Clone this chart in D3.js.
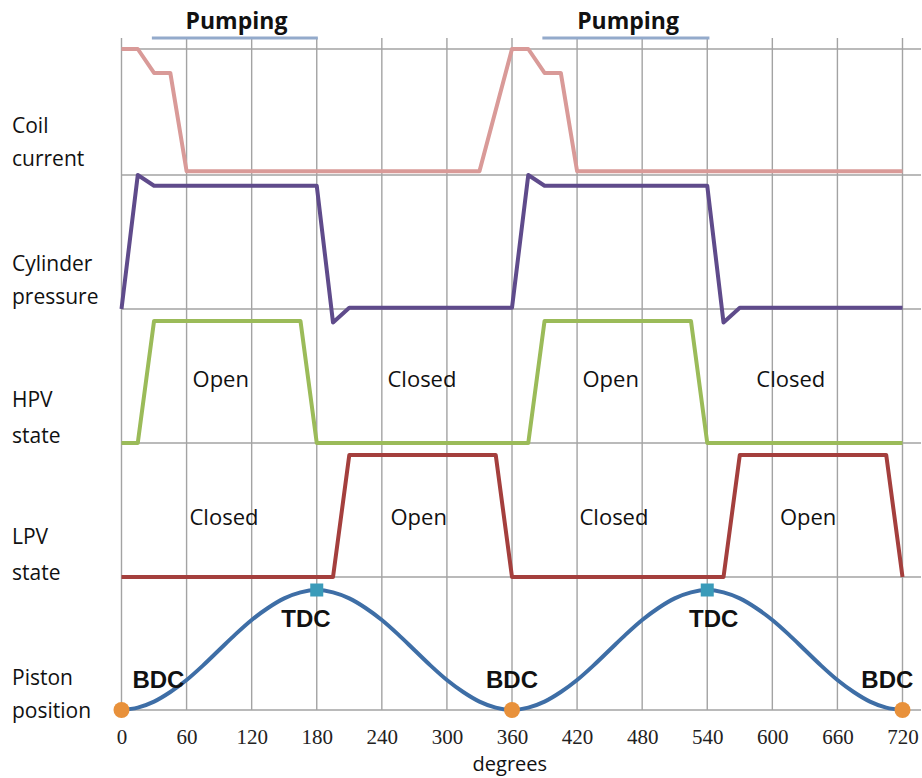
<!DOCTYPE html>
<html>
<head>
<meta charset="utf-8">
<script src="https://cdn.jsdelivr.net/npm/d3@7"></script>
<style>
  html, body { margin: 0; padding: 0; background: #fff; }
  svg { display: block; }
</style>
</head>
<body>
<svg id="chart" width="922" height="778"></svg>
<script>
// ---------- data ----------
const tickDegrees = [0, 60, 120, 180, 240, 300, 360, 420, 480, 540, 600, 660, 720];
const rowLabels = [["Coil", "current"], ["Cylinder", "pressure"], ["HPV", "state"], ["LPV", "state"], ["Piston", "position"]];

const coilDeg = [0, 15, 30, 45, 60, 330, 360, 375, 390, 405, 420, 720];
const coilVal = [1, 1, 0.81, 0.81, 0.03, 0.03, 1, 1, 0.81, 0.81, 0.03, 0.03];

const pressureDeg = [0, 15, 30, 180, 195, 210, 360, 375, 390, 540, 555, 570, 720];
const pressureVal = [0, 1, 0.92, 0.92, -0.1, 0.01, 0.01, 1, 0.92, 0.92, -0.1, 0.01, 0.01];

const hpvDeg = [0, 15, 30, 165, 180, 375, 390, 525, 540, 720];
const hpvVal = [0, 0, 0.91, 0.91, 0, 0, 0.91, 0.91, 0, 0];

const lpvDeg = [0, 195, 210, 345, 360, 555, 570, 705, 720];
const lpvVal = [0, 0, 0.91, 0.91, 0, 0, 0.91, 0.91, 0];

const pistonDeg = [0, 15, 30, 45, 60, 75, 90, 105, 120, 135, 150, 165, 180,
  195, 210, 225, 240, 255, 270, 285, 300, 315, 330, 345, 360,
  375, 390, 405, 420, 435, 450, 465, 480, 495, 510, 525, 540,
  555, 570, 585, 600, 615, 630, 645, 660, 675, 690, 705, 720];
const pistonVal = [0, 0.02, 0.07, 0.15, 0.25, 0.37, 0.5, 0.63, 0.75, 0.85, 0.93, 0.98, 1,
  0.98, 0.93, 0.85, 0.75, 0.63, 0.5, 0.37, 0.25, 0.15, 0.07, 0.02, 0,
  0.02, 0.07, 0.15, 0.25, 0.37, 0.5, 0.63, 0.75, 0.85, 0.93, 0.98, 1,
  0.98, 0.93, 0.85, 0.75, 0.63, 0.5, 0.37, 0.25, 0.15, 0.07, 0.02, 0];

const bdcDeg = [0, 360, 720];
const bdcLabelDeg = [34, 360, 706];
const tdcDeg = [180, 540];
const tdcLabelDeg = [170, 546];

const pumpingStart = [28, 388];
const pumpingEnd = [181, 542];
const pumpingLabelDeg = [106, 467];

const hpvLabels = ["Open", "Closed", "Open", "Closed"];
const hpvLabelDeg = [91.5, 277, 451, 617];
const lpvLabels = ["Closed", "Open", "Closed", "Open"];
const lpvLabelDeg = [94.5, 274, 454, 633];

// ---------- layout ----------
const svg = d3.select("#chart");
const x = d3.scaleLinear().domain([0, 720]).range([121.5, 902.5]);
const rowLines = [49, 175, 309, 443, 577, 710];
const gridTop = 38;
const gridRight = 921;

const yCoil = d3.scaleLinear().domain([0, 1]).range([175, 49]);
const yPressure = d3.scaleLinear().domain([0, 1]).range([309, 175]);
const yHpv = d3.scaleLinear().domain([0, 1]).range([443, 309]);
const yLpv = d3.scaleLinear().domain([0, 1]).range([577, 443]);
const yPiston = d3.scaleLinear().domain([0, 1]).range([710, 590]);

const gridColor = "#a3a3a3";

// vertical grid
svg.append("g").selectAll("line").data(tickDegrees).join("line")
  .attr("x1", d => x(d)).attr("x2", d => x(d))
  .attr("y1", gridTop).attr("y2", 710)
  .attr("stroke", gridColor).attr("stroke-width", 1.4);

// horizontal grid
svg.append("g").selectAll("line").data(rowLines).join("line")
  .attr("x1", x(0)).attr("x2", gridRight)
  .attr("y1", d => d).attr("y2", d => d)
  .attr("stroke", gridColor).attr("stroke-width", 1.4);

// pumping bars + labels
svg.append("g").selectAll("line").data(pumpingStart).join("line")
  .attr("x1", d => x(d)).attr("x2", (d, i) => x(pumpingEnd[i]))
  .attr("y1", gridTop).attr("y2", gridTop)
  .attr("stroke", "#93aacb").attr("stroke-width", 3);
svg.append("g").selectAll("text").data(pumpingLabelDeg).join("text")
  .attr("x", d => x(d)).attr("y", 29)
  .attr("text-anchor", "middle")
  .attr("font-family", "'Open Sans', sans-serif").attr("font-weight", "bold")
  .attr("font-size", 23).attr("fill", "#111")
  .text("Pumping");

// series
function drawSeries(degs, vals, yScale, color, curve) {
  const pts = degs.map((d, i) => [d, vals[i]]);
  const line = d3.line().x(p => x(p[0])).y(p => yScale(p[1])).curve(curve || d3.curveLinear);
  svg.append("path").datum(pts)
    .attr("d", line)
    .attr("fill", "none")
    .attr("stroke", color)
    .attr("stroke-width", 4)
    .attr("stroke-linejoin", "round");
}
drawSeries(coilDeg, coilVal, yCoil, "#d99a98");
drawSeries(pressureDeg, pressureVal, yPressure, "#5f4b8b");
drawSeries(hpvDeg, hpvVal, yHpv, "#9bbb59");
drawSeries(lpvDeg, lpvVal, yLpv, "#a43f3d");
drawSeries(pistonDeg, pistonVal, yPiston, "#3e6ea6", d3.curveMonotoneX);

// markers
svg.append("g").selectAll("circle").data(bdcDeg).join("circle")
  .attr("cx", d => x(d)).attr("cy", yPiston(0)).attr("r", 8)
  .attr("fill", "#e8913b");
svg.append("g").selectAll("rect").data(tdcDeg).join("rect")
  .attr("x", d => x(d) - 6.5).attr("y", yPiston(1) - 6.5)
  .attr("width", 13).attr("height", 13)
  .attr("fill", "#3a9bb9");

// BDC / TDC labels
const labelFont = "'Liberation Sans', Arial, sans-serif";
svg.append("g").selectAll("text").data(bdcLabelDeg).join("text")
  .attr("x", d => x(d)).attr("y", 688)
  .attr("text-anchor", "middle")
  .attr("font-family", labelFont).attr("font-weight", "bold")
  .attr("font-size", 24).attr("fill", "#111")
  .text("BDC");
svg.append("g").selectAll("text").data(tdcLabelDeg).join("text")
  .attr("x", d => x(d)).attr("y", 627)
  .attr("text-anchor", "middle")
  .attr("font-family", labelFont).attr("font-weight", "bold")
  .attr("font-size", 24).attr("fill", "#111")
  .text("TDC");

// state labels
const textFont = "'Open Sans', sans-serif";
svg.append("g").selectAll("text").data(hpvLabels).join("text")
  .attr("x", (d, i) => x(hpvLabelDeg[i])).attr("y", 387)
  .attr("text-anchor", "middle")
  .attr("font-family", textFont).attr("font-size", 22).attr("fill", "#111")
  .text(d => d);
svg.append("g").selectAll("text").data(lpvLabels).join("text")
  .attr("x", (d, i) => x(lpvLabelDeg[i])).attr("y", 525)
  .attr("text-anchor", "middle")
  .attr("font-family", textFont).attr("font-size", 22).attr("fill", "#111")
  .text(d => d);

// row labels
const rowBaselines = [[133, 166], [271, 304], [407, 443], [544, 580], [685, 718]];
const rowG = svg.append("g");
rowLabels.forEach((pair, i) => {
  pair.forEach((t, j) => {
    rowG.append("text")
      .attr("x", 12).attr("y", rowBaselines[i][j])
      .attr("font-family", textFont).attr("font-size", 21).attr("fill", "#111")
      .text(t);
  });
});

// bottom axis
const axis = d3.axisBottom(x).tickValues(tickDegrees).tickSize(0).tickPadding(0).tickFormat(d3.format("d"));
const ax = svg.append("g").attr("transform", "translate(0,710)").call(axis);
ax.select(".domain").remove();
ax.selectAll("text")
  .attr("y", 34).attr("dy", null)
  .attr("font-family", "'Liberation Serif', 'Times New Roman', serif")
  .attr("font-size", 21).attr("fill", "#222");

svg.append("text")
  .attr("x", x(358)).attr("y", 770.5)
  .attr("text-anchor", "middle")
  .attr("font-family", textFont).attr("font-size", 20).attr("fill", "#111")
  .text("degrees");
</script>
</body>
</html>
